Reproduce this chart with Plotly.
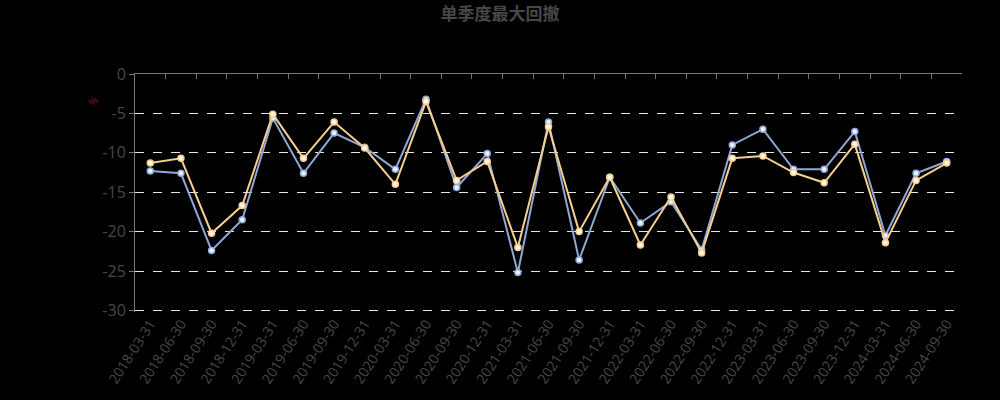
import plotly.graph_objects as go

dates = ["2018-03-31","2018-06-30","2018-09-30","2018-12-31","2019-03-31","2019-06-30","2019-09-30","2019-12-31",
         "2020-03-31","2020-06-30","2020-09-30","2020-12-31","2021-03-31","2021-06-30","2021-09-30","2021-12-31",
         "2022-03-31","2022-06-30","2022-09-30","2022-12-31","2023-03-31","2023-06-30","2023-09-30","2023-12-31",
         "2024-03-31","2024-06-30","2024-09-30"]
series_blue = [-12.3, -12.6, -22.4, -18.5, -5.6, -12.6, -7.5, -9.3,
               -12.1, -3.2, -14.4, -10.1, -25.2, -6.1, -23.6, -13.1,
               -18.9, -16.2, -22.3, -9.0, -7.0, -12.1, -12.1, -7.3,
               -20.5, -12.6, -11.1]
series_orange = [-11.3, -10.7, -20.2, -16.7, -5.1, -10.7, -6.1, -9.4,
                 -14.0, -3.5, -13.5, -11.1, -22.0, -6.7, -20.0, -13.1,
                 -21.7, -15.6, -22.7, -10.7, -10.4, -12.5, -13.8, -8.9,
                 -21.4, -13.5, -11.3]
y_ticks = [0, -5, -10, -15, -20, -25, -30]
y_tick_labels = ["0", "-5", "-10", "-15", "-20", "-25", "-30"]

blue = "#8fa8d6"
orange = "#f6cf8e"
label_color = "#474747"

fig = go.Figure()
fig.add_trace(go.Scatter(x=dates, y=series_blue, mode="lines+markers", name="单季度最大回撤A",
                         line=dict(color=blue, width=2),
                         marker=dict(size=6, color="#eef2fb", line=dict(color=blue, width=1.5))))
fig.add_trace(go.Scatter(x=dates, y=series_orange, mode="lines+markers", name="单季度最大回撤B",
                         line=dict(color=orange, width=2),
                         marker=dict(size=6, color="#fff6e6", line=dict(color=orange, width=1.5))))
# invisible trace to carry the top (zero) axis
fig.add_trace(go.Scatter(x=dates, y=series_blue, xaxis="x2", mode="lines",
                         line=dict(width=0), opacity=0, hoverinfo="skip", showlegend=False))

fig.update_layout(
    width=1000, height=400,
    paper_bgcolor="#000000", plot_bgcolor="#000000",
    margin=dict(l=135, r=38, t=74, b=88),
    showlegend=False,
    font=dict(family="Open Sans, Noto Sans CJK SC, sans-serif", color=label_color),
    title=dict(text="<b>单季度最大回撤</b>", x=0.5, xanchor="center", y=0.965, yanchor="middle",
               font=dict(size=17, color=label_color, family="Noto Sans CJK SC, sans-serif")),
    xaxis=dict(type="category", categoryorder="array", categoryarray=dates,
               range=[-0.5, len(dates) - 0.5], showgrid=False, showline=False, zeroline=False,
               ticks="", tickangle=-57, tickfont=dict(size=14, color=label_color)),
    xaxis2=dict(type="category", categoryorder="array", categoryarray=dates, overlaying="x", side="top",
                range=[-0.5, len(dates) - 0.5], showgrid=False, zeroline=False,
                showline=True, linecolor="#777777", linewidth=1,
                ticks="inside", ticklen=5, tickcolor="#777777", tickson="boundaries",
                showticklabels=False),
    yaxis=dict(range=[-30.2, 0], tickmode="array", tickvals=y_ticks, ticktext=y_tick_labels,
               showgrid=True, gridcolor="#e6e6e6", griddash="dash",
               gridwidth=1, zeroline=False, showline=True, linecolor="#777777", linewidth=1,
               ticks="outside", ticklen=5, tickcolor="#777777",
               tickfont=dict(size=16, color=label_color)),
)
fig.add_annotation(text="%", xref="paper", yref="paper", x=-0.051, y=0.885, xanchor="center",
                   yanchor="middle", showarrow=False,
                   textangle=-45, font=dict(size=10, color="#8b1010"))

fig.write_html("out.html", config={"displayModeBar": False},
               post_script="document.body.style.margin='0';document.body.style.background='#000';")
